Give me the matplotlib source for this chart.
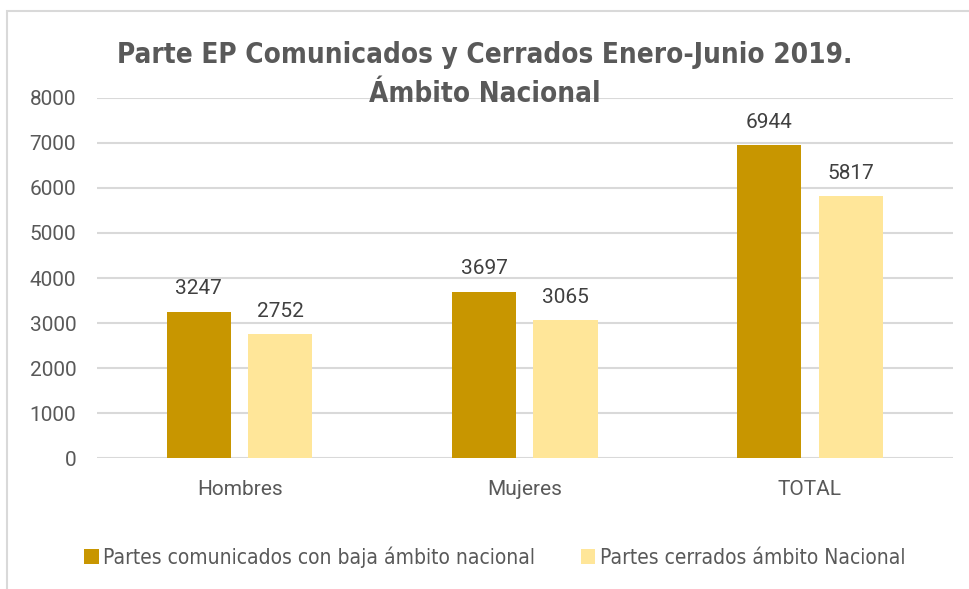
import numpy as np
import matplotlib
import matplotlib.pyplot as plt
from matplotlib.patches import Rectangle

matplotlib.use("Agg")

categories = ["Hombres", "Mujeres", "TOTAL"]
comunicados = [3247, 3697, 6944]
cerrados = [2752, 3065, 5817]
series_names = ["Partes comunicados con baja ámbito nacional",
                "Partes cerrados ámbito Nacional"]
yticks = [0, 1000, 2000, 3000, 4000, 5000, 6000, 7000, 8000]

dark = "#C89600"
light = "#FFE699"
text_color = "#595959"

fig = plt.figure(figsize=(9.7, 5.89), dpi=100)
# light chart-area frame (runs off the right and bottom edges in the original)
fig.patches.append(Rectangle((0.007, -0.05), 1.2, 1.031, transform=fig.transFigure,
                             fill=False, edgecolor="#d9d9d9", linewidth=1.5))
ax = fig.add_axes([0.1, 0.222, 0.882, 0.612])

x = np.arange(len(categories))
w = 0.225
off = 0.143
b1 = ax.bar(x - off, comunicados, w, color=dark, label=series_names[0], zorder=3)
b2 = ax.bar(x + off, cerrados, w, color=light, label=series_names[1], zorder=3)

# value labels above bars
for bars in (b1, b2):
    for bar in bars:
        h = bar.get_height()
        ax.text(bar.get_x() + bar.get_width() / 2, h + 300, f"{h:.0f}",
                ha="center", va="bottom", fontsize=15, color="#404040",
                family="Roboto")

ax.set_xlim(-0.5, 2.5)
ax.set_ylim(0, 8000)
ax.set_yticks(yticks)
ax.set_xticks(x)
ax.set_xticklabels(categories)
ax.grid(axis="y", color="#d9d9d9", linewidth=1.5, zorder=0)
for s in ax.spines.values():
    s.set_visible(False)
ax.tick_params(length=0, labelsize=15, labelcolor=text_color)
for lab in ax.get_xticklabels() + ax.get_yticklabels():
    lab.set_family("Roboto")
ax.tick_params(axis="y", pad=15)
ax.tick_params(axis="x", pad=16)

fig.text(0.5, 0.93, "Parte EP Comunicados y Cerrados Enero-Junio 2019.\nÁmbito Nacional",
         ha="center", va="top", fontsize=20, fontweight="bold", color=text_color,
         family="DejaVu Sans", fontstretch="condensed", linespacing=1.5)

leg = fig.legend(loc="center", bbox_to_anchor=(0.51, 0.054), ncol=2, frameon=False,
                 prop={"family": "DejaVu Sans", "stretch": "condensed", "size": 15},
                 handlelength=0.7, handleheight=0.7, handletextpad=0.2,
                 columnspacing=2.2)
for t in leg.get_texts():
    t.set_color(text_color)

fig.savefig("out.png", dpi=100, facecolor="white")
